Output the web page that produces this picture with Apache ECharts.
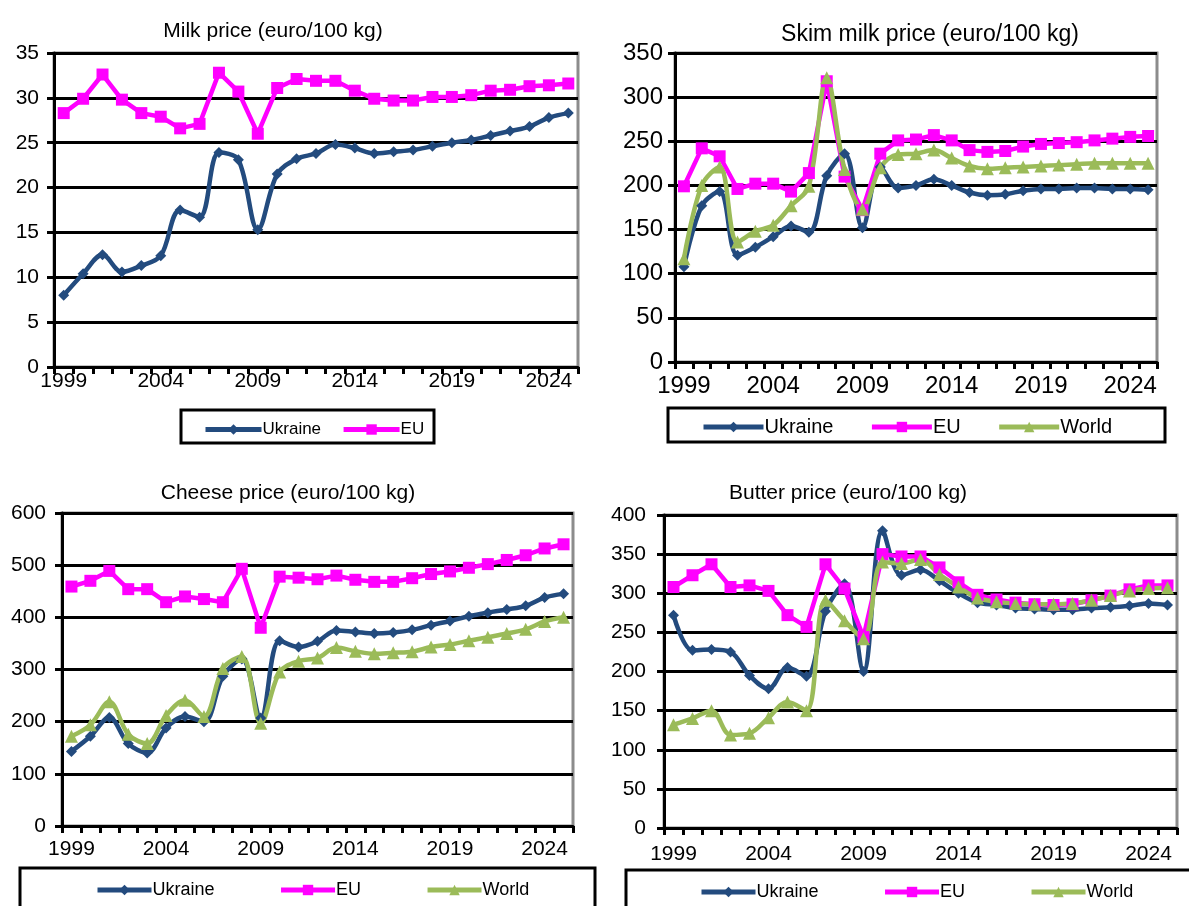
<!DOCTYPE html>
<html>
<head>
<meta charset="utf-8">
<title>Dairy prices</title>
<script src="https://cdn.jsdelivr.net/npm/echarts@6.0.0/dist/echarts.min.js"></script>
<style>
  html, body { margin: 0; padding: 0; background: #fff; }
  #main { width: 1189px; height: 906px; }
</style>
</head>
<body>
<div id="main"></div>
<script>
// years on the x axis
var years = ['1999','2000','2001','2002','2003','2004','2005','2006','2007','2008','2009','2010','2011',
  '2012','2013','2014','2015','2016','2017','2018','2019','2020','2021','2022','2023','2024','2025'];

// milk, euro/100 kg
var milkUkraine = [8.0, 10.4, 12.5, 10.6, 11.3, 12.4, 17.5, 16.7, 23.9, 23.1, 15.3, 21.5, 23.2, 23.8,
  24.8, 24.4, 23.8, 24.0, 24.2, 24.6, 25.0, 25.3, 25.8, 26.3, 26.8, 27.8, 28.3];
var milkEU = [28.3, 29.9, 32.6, 29.8, 28.3, 27.9, 26.6, 27.1, 32.8, 30.7, 26.0, 31.1, 32.1, 31.9,
  31.9, 30.8, 29.9, 29.7, 29.7, 30.1, 30.1, 30.3, 30.8, 30.9, 31.3, 31.4, 31.6];

// skim milk
var skimUkraine = [108, 177, 193, 121, 130, 142, 154, 147, 211, 236, 152, 221, 197, 200,
  207, 200, 192, 189, 190, 194, 196, 196, 197, 197, 196, 196, 195];
var skimEU = [199, 242, 233, 196, 202, 202, 193, 214, 318, 210, 172, 236, 251, 252,
  257, 251, 240, 238, 239, 244, 247, 248, 249, 251, 253, 255, 256];
var skimWorld = [117, 200, 221, 136, 148, 155, 177, 199, 322, 218, 173, 220, 235, 236,
  240, 231, 222, 219, 220, 221, 222, 223, 224, 225, 225, 225, 225];

// cheese
var cheeseUkraine = [143, 172, 208, 158, 140, 188, 210, 200, 287, 320, 207, 355, 343, 354,
  375, 372, 369, 371, 376, 385, 393, 402, 409, 415, 422, 438, 445];
var cheeseEU = [459, 470, 489, 454, 454, 429, 440, 435, 429, 493, 380, 478, 476, 473,
  480, 472, 468, 468, 475, 483, 488, 495, 502, 510, 519, 532, 540];
var cheeseWorld = [172, 194, 238, 176, 158, 212, 241, 210, 302, 325, 197, 295, 316, 322,
  342, 335, 330, 332, 334, 343, 348, 355, 362, 369, 377, 392, 400];

// butter
var butterUkraine = [272, 227, 228, 225, 195, 178, 205, 194, 277, 312, 200, 380, 323, 330,
  316, 300, 288, 285, 281, 280, 279, 279, 281, 282, 284, 287, 285];
var butterEU = [308, 323, 337, 308, 310, 303, 272, 257, 337, 306, 244, 350, 347, 347,
  333, 314, 298, 292, 288, 286, 285, 286, 291, 297, 305, 310, 310];
var butterWorld = [132, 140, 150, 119, 121, 141, 161, 150, 291, 265, 242, 340, 338, 343,
  324, 308, 294, 289, 287, 286, 286, 287, 291, 297, 303, 306, 307];

var FONT = 'Liberation Sans, Arial, sans-serif';
var BLUE = '#234B7E', PINK = '#FF00FF', GREEN = '#9BBB59';

var chart = echarts.init(document.getElementById('main'));

function grid(left, top, width, height) {
  return { left: left, top: top, width: width, height: height,
    show: true, borderColor: '#8c8c8c', borderWidth: 3, backgroundColor: '#fff' };
}

function xAxis(i, fs, margin) {
  return {
    gridIndex: i, type: 'category', data: years, boundaryGap: true,
    axisLine: { lineStyle: { color: '#000', width: 3 } },
    axisTick: { show: true, interval: 0, length: 7, lineStyle: { color: '#000', width: 3 } },
    axisLabel: { interval: 4, color: '#000', fontFamily: FONT, fontSize: fs, margin: margin },
    splitLine: { show: false }
  };
}

function yAxis(i, max, step, fs, margin) {
  return {
    gridIndex: i, type: 'value', min: 0, max: max, interval: step,
    axisLine: { show: true, lineStyle: { color: '#000', width: 3 } },
    axisTick: { show: true, length: 7, lineStyle: { color: '#000', width: 3 } },
    axisLabel: { color: '#000', fontFamily: FONT, fontSize: fs, margin: margin },
    splitLine: { lineStyle: { color: '#000', width: 3 } }
  };
}

function line(name, data, i, color, symbol, size, smooth) {
  return {
    name: name, type: 'line', xAxisIndex: i, yAxisIndex: i, data: data,
    smooth: smooth ? 0.35 : false,
    symbol: symbol, symbolSize: size, showAllSymbol: true,
    lineStyle: { color: color, width: 4.5 },
    itemStyle: { color: color },
    emphasis: { disabled: true },
    z: 3
  };
}

function legend(left, top, names, gap, fs, w) {
  return {
    left: left, top: top, data: names, itemGap: gap, itemWidth: w, itemHeight: 13,
    lineStyle: { width: 5 },
    textStyle: { color: '#000', fontFamily: FONT, fontSize: fs, padding: [0, 0, 0, -4] },
    selectedMode: false
  };
}

function title(text, x, y, fs) {
  return { text: text, left: x, top: y, textAlign: 'center',
    textStyle: { color: '#000', fontFamily: FONT, fontSize: fs, fontWeight: 'normal' } };
}

function box(x, y, w, h) {
  return { type: 'rect', shape: { x: x, y: y, width: w, height: h },
    style: { fill: '#fff', stroke: '#000', lineWidth: 3 }, z: -1 };
}

chart.setOption({
  backgroundColor: '#fff',
  animation: false,
  title: [
    title('Milk price (euro/100 kg)', 268, 16, 21),
    title('Skim milk price (euro/100 kg)', 925, 18, 23),
    title('Cheese price (euro/100 kg)', 283, 478, 21),
    title('Butter price (euro/100 kg)', 843, 478, 21)
  ],
  graphic: [
    box(181, 410, 253, 33),
    box(668, 408, 497, 34),
    box(20, 868, 575, 50),
    box(626, 870, 580, 50)
  ],
  legend: [
    legend(198, 416, ['Ukraine', 'EU'], 20, 17, 56),
    legend(696, 412, ['Ukraine', 'EU', 'World'], 36, 20, 60),
    legend(90, 876, ['Ukraine', 'EU', 'World'], 64, 18, 54),
    legend(694, 878, ['Ukraine', 'EU', 'World'], 64, 18, 54)
  ],
  grid: [
    grid(54, 53, 524, 314),
    grid(675, 53, 482, 309),
    grid(62, 513, 511, 313),
    grid(664, 515, 513, 313)
  ],
  xAxis: [xAxis(0, 21, 4), xAxis(1, 24, 12), xAxis(2, 21, 13), xAxis(3, 21, 16)],
  yAxis: [yAxis(0, 35, 5, 21, 15), yAxis(1, 350, 50, 24, 12), yAxis(2, 600, 100, 21, 16), yAxis(3, 400, 50, 21, 18)],
  series: [
    line('Ukraine', milkUkraine, 0, BLUE, 'diamond', 11, true),
    line('EU', milkEU, 0, PINK, 'rect', 12, false),

    line('Ukraine', skimUkraine, 1, BLUE, 'diamond', 11, true),
    line('EU', skimEU, 1, PINK, 'rect', 12, false),
    line('World', skimWorld, 1, GREEN, 'triangle', 13, true),

    line('Ukraine', cheeseUkraine, 2, BLUE, 'diamond', 11, true),
    line('EU', cheeseEU, 2, PINK, 'rect', 12, false),
    line('World', cheeseWorld, 2, GREEN, 'triangle', 13, true),

    line('Ukraine', butterUkraine, 3, BLUE, 'diamond', 11, true),
    line('EU', butterEU, 3, PINK, 'rect', 12, false),
    line('World', butterWorld, 3, GREEN, 'triangle', 13, true)
  ]
});
</script>
</body>
</html>
